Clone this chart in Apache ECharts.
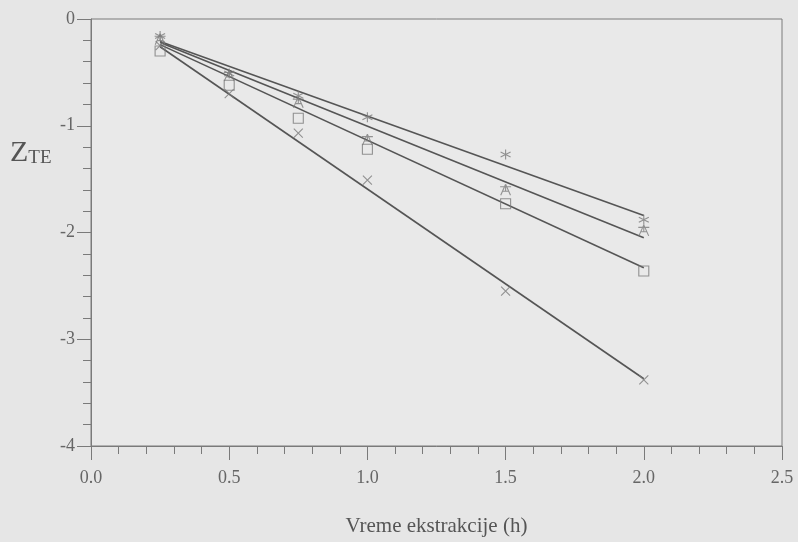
<!DOCTYPE html>
<html>
<head>
<meta charset="utf-8">
<script src="https://cdn.jsdelivr.net/npm/echarts@6/dist/echarts.min.js"></script>
<style>
  html, body { margin: 0; padding: 0; background: #e6e6e6; }
  #chart { width: 798px; height: 542px; }
</style>
</head>
<body>
<div id="chart"></div>
<script>
// Extraction time (h) at which Z_TE was measured
const times = [0.25, 0.5, 0.75, 1.0, 1.5, 2.0];

// Measured Z_TE values, one array per sample
const zAsterisk = [-0.16, -0.51, -0.72, -0.92, -1.27, -1.88];
const zStar     = [-0.19, -0.53, -0.78, -1.13, -1.60, -1.98];
const zSquare   = [-0.30, -0.62, -0.93, -1.22, -1.73, -2.36];
const zCross    = [-0.25, -0.70, -1.07, -1.51, -2.55, -3.38];

// Linear fits, given by their values at the ends of the time range
const fitTimes    = [0.25, 2.0];
const fitAsterisk = [-0.21, -1.84];
const fitStar     = [-0.22, -2.05];
const fitSquare   = [-0.24, -2.33];
const fitCross    = [-0.26, -3.37];

const xTicks = ['0.0', '0.5', '1.0', '1.5', '2.0', '2.5'];
const yTicks = ['0', '-1', '-2', '-3', '-4'];

const pair = (xs, ys) => xs.map((x, i) => [x, ys[i]]);

const FONT = '"Liberation Serif", "DejaVu Serif", serif';
const MARK = '#7a7a7a';
const LINE = '#555555';

const symAsterisk = 'path://M0,-1L0,1M-0.87,-0.5L0.87,0.5M-0.87,0.5L0.87,-0.5';
const symCross    = 'path://M-1,-1L1,1M-1,1L1,-1';
const symStar     = 'path://M0,-1L-0.8,1M0,-1L0.8,1M-0.5,0.25L0.5,0.25M-0.9,-0.55L0.9,-0.55M0,-1L0,0.3';

function points(name, ys, symbol, size) {
  return {
    name, type: 'scatter', data: pair(times, ys), symbol, symbolSize: size,
    itemStyle: { color: 'rgba(0,0,0,0)', borderColor: MARK, borderWidth: 1.1 },
    z: 3
  };
}
function fit(name, ys) {
  return {
    name, type: 'line', data: pair(fitTimes, ys), symbol: 'none',
    lineStyle: { color: LINE, width: 1.6 }, z: 2, silent: true
  };
}

const axisCommon = {
  axisLine: { show: true, onZero: false, lineStyle: { color: '#7a7a7a', width: 1 } },
  axisTick: { show: true, inside: false, length: 14, lineStyle: { color: '#7a7a7a' } },
  minorTick: { show: true, splitNumber: 5, length: 8, lineStyle: { color: '#7a7a7a' } },
  splitLine: { show: false }
};

const chart = echarts.init(document.getElementById('chart'));
chart.setOption({
  backgroundColor: '#e6e6e6',
  animation: false,
  grid: {
    left: 91, right: 16, top: 19, bottom: 95,
    show: true, backgroundColor: '#e9e9e9', borderColor: '#7a7a7a', borderWidth: 1
  },
  xAxis: Object.assign({
    type: 'value', min: 0, max: 2.5, interval: 0.5, position: 'bottom',
    name: 'Vreme ekstrakcije (h)', nameLocation: 'middle', nameGap: 70,
    nameTextStyle: { fontFamily: FONT, fontSize: 21, color: '#555' },
    axisLabel: {
      margin: 23, fontFamily: FONT, fontSize: 18, color: '#666',
      formatter: v => xTicks[Math.round(v / 0.5)]
    }
  }, axisCommon),
  yAxis: Object.assign({
    type: 'value', min: -4, max: 0, interval: 1, position: 'left',
    axisLabel: {
      margin: 16, fontFamily: FONT, fontSize: 18, color: '#666',
      formatter: v => yTicks[Math.round(-v)]
    }
  }, axisCommon),
  graphic: [{
    type: 'text', left: 10, top: 138,
    style: {
      text: '{z|Z}{s|TE}',
      rich: {
        z: { fontFamily: FONT, fontSize: 30, fill: '#555', verticalAlign: 'bottom' },
        s: { fontFamily: FONT, fontSize: 19, fill: '#555', verticalAlign: 'bottom' }
      }
    }
  }],
  series: [
    fit('fitAsterisk', fitAsterisk),
    fit('fitStar', fitStar),
    fit('fitSquare', fitSquare),
    fit('fitCross', fitCross),
    points('asterisk', zAsterisk, symAsterisk, 10),
    points('star', zStar, symStar, 11),
    points('square', zSquare, 'rect', 10),
    points('cross', zCross, symCross, 9)
  ]
});
</script>
</body>
</html>
